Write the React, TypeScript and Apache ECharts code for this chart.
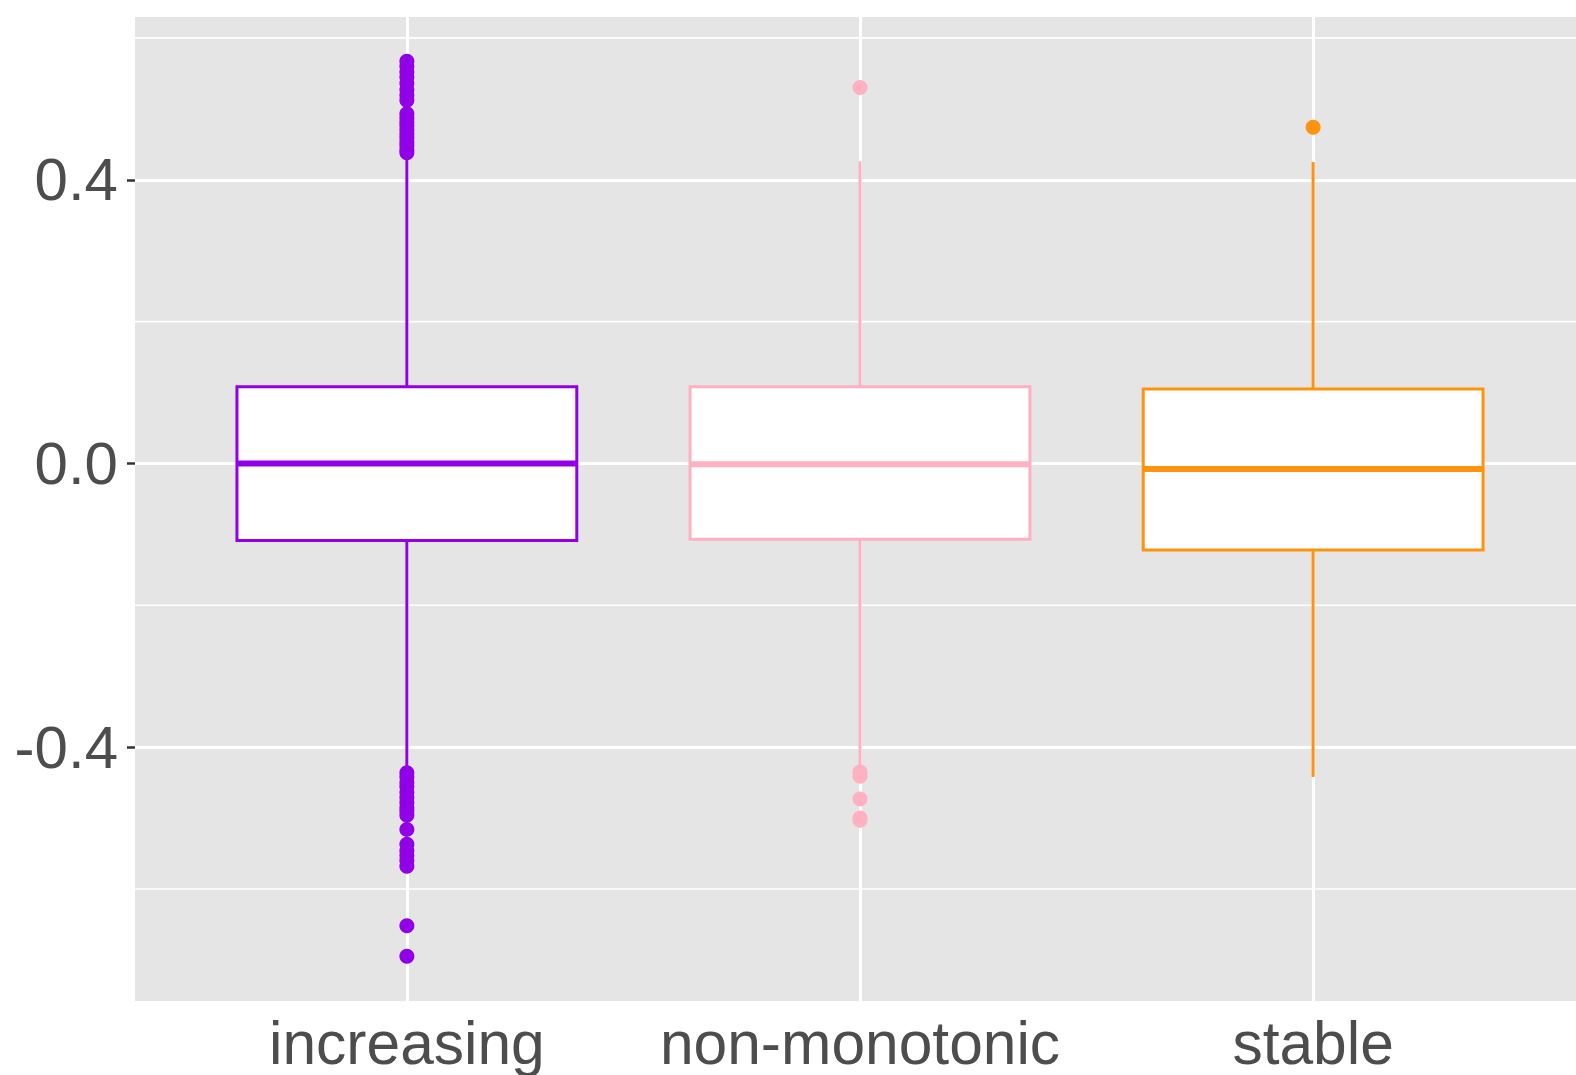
import React, { useEffect, useRef } from "react";
import * as echarts from "echarts";

// ---- data ----
const categories = ["increasing", "non-monotonic", "stable"];
const categoryPositions = [1, 2, 3];
const colors = ["#9100E6", "#FFB0C1", "#FF930F"];

const lowerWhisker = [-0.432, -0.43, -0.442];
const q1 = [-0.1086, -0.107, -0.122];
const median = [0.0, -0.001, -0.008];
const q3 = [0.108, 0.108, 0.105];
const upperWhisker = [0.43, 0.426, 0.425];

const outliersIncreasing = [
  0.567, 0.56, 0.552, 0.545, 0.536, 0.527, 0.519, 0.512,
  0.493, 0.487, 0.481, 0.476, 0.47, 0.464, 0.459, 0.453, 0.448, 0.442, 0.438,
  -0.436, -0.442, -0.45, -0.456, -0.464, -0.471, -0.478, -0.485, -0.49, -0.496,
  -0.516, -0.537, -0.546, -0.553, -0.56, -0.568, -0.652, -0.695,
];
const outliersNonMonotonic = [0.53, -0.435, -0.441, -0.473, -0.5, -0.503];
const outliersStable = [0.474];

const yTickValues = [-0.4, 0, 0.4];
const yMinorGridValues = [-0.6, -0.2, 0.2, 0.6];
const yMin = -0.758;
const yMax = 0.6295;
const xMin = 0.4;
const xMax = 3.6;
const boxWidthUnits = 0.75;

const FONT = '"Liberation Sans", Arial, Helvetica, sans-serif';

export default function App() {
  const ref = useRef<HTMLDivElement>(null);

  useEffect(() => {
    if (!ref.current) return;
    const chart = echarts.init(ref.current, undefined, { renderer: "svg" });

    const outlierSets = [outliersIncreasing, outliersNonMonotonic, outliersStable];

    const boxData = categories.map((_, i) => [
      categoryPositions[i],
      lowerWhisker[i],
      q1[i],
      median[i],
      q3[i],
      upperWhisker[i],
    ]);

    const option: any = {
      animation: false,
      grid: {
        left: 135,
        top: 17,
        width: 1450,
        height: 984,
        show: true,
        backgroundColor: "#E5E5E5",
        borderWidth: 0,
        containLabel: false,
        outerBoundsMode: "none",
      },
      xAxis: {
        type: "value",
        min: xMin,
        max: xMax,
        axisLine: { show: false },
        axisTick: {
          show: true,
          length: 8,
          customValues: categoryPositions,
          lineStyle: { color: "#333333", width: 2.5 },
        },
        axisLabel: {
          customValues: categoryPositions,
          formatter: (v: number) => {
            const idx = categoryPositions.indexOf(Math.round(v));
            return idx >= 0 ? categories[idx] : "";
          },
          fontSize: 60.5,
          fontFamily: FONT,
          color: "#4D4D4D",
          margin: 11,
        },
        splitLine: { show: true, lineStyle: { color: "#FFFFFF", width: 3 } },
      },
      yAxis: {
        type: "value",
        min: yMin,
        max: yMax,
        axisLine: { show: false },
        axisTick: {
          show: true,
          length: 8,
          customValues: yTickValues,
          lineStyle: { color: "#333333", width: 2.5 },
        },
        axisLabel: {
          customValues: yTickValues,
          formatter: (v: number) => v.toFixed(1),
          fontSize: 60,
          fontFamily: FONT,
          color: "#4D4D4D",
          margin: 17,
        },
        splitLine: { show: true, lineStyle: { color: "#FFFFFF", width: 3 } },
      },
      series: [
        {
          type: "custom",
          name: "minor-grid",
          z: 1,
          silent: true,
          data: yMinorGridValues.map((v) => [xMin, v]),
          encode: { x: 0, y: 1 },
          renderItem: (params: any, api: any) => {
            const cs = params.coordSys;
            const p = api.coord([xMin, api.value(1)]);
            return {
              type: "line",
              shape: { x1: cs.x, y1: p[1], x2: cs.x + cs.width, y2: p[1] },
              style: { stroke: "#FFFFFF", lineWidth: 1.6 },
            };
          },
        },
        ...outlierSets.map((set, i) => ({
          type: "scatter",
          name: categories[i] + "-outliers",
          z: 2,
          symbol: "circle",
          symbolSize: 15,
          itemStyle: { color: colors[i], opacity: 1 },
          data: set.map((v) => [categoryPositions[i], v]),
        })),
        {
          type: "custom",
          name: "boxes",
          z: 3,
          data: boxData,
          encode: { x: 0, y: [1, 2, 3, 4, 5] },
          renderItem: (params: any, api: any) => {
            const i = params.dataIndex;
            const x = api.value(0);
            const color = colors[i];
            const halfW = api.size([boxWidthUnits, 0])[0] / 2;
            const pLow = api.coord([x, api.value(1)]);
            const pQ1 = api.coord([x, api.value(2)]);
            const pMed = api.coord([x, api.value(3)]);
            const pQ3 = api.coord([x, api.value(4)]);
            const pHigh = api.coord([x, api.value(5)]);
            const cx = pQ1[0];
            return {
              type: "group",
              children: [
                {
                  type: "line",
                  shape: { x1: cx, y1: pQ3[1], x2: cx, y2: pHigh[1] },
                  style: { stroke: color, lineWidth: 3 },
                },
                {
                  type: "line",
                  shape: { x1: cx, y1: pQ1[1], x2: cx, y2: pLow[1] },
                  style: { stroke: color, lineWidth: 3 },
                },
                {
                  type: "rect",
                  shape: {
                    x: cx - halfW,
                    y: pQ3[1],
                    width: halfW * 2,
                    height: pQ1[1] - pQ3[1],
                  },
                  style: { fill: "#FFFFFF", stroke: color, lineWidth: 3 },
                },
                {
                  type: "line",
                  shape: { x1: cx - halfW, y1: pMed[1], x2: cx + halfW, y2: pMed[1] },
                  style: { stroke: color, lineWidth: 6 },
                },
              ],
            };
          },
        },
      ],
    };

    chart.setOption(option);
    return () => chart.dispose();
  }, []);

  return (
    <div
      ref={ref}
      style={{ position: "absolute", left: 0, top: 0, width: 1576, height: 1075 }}
    />
  );
}
